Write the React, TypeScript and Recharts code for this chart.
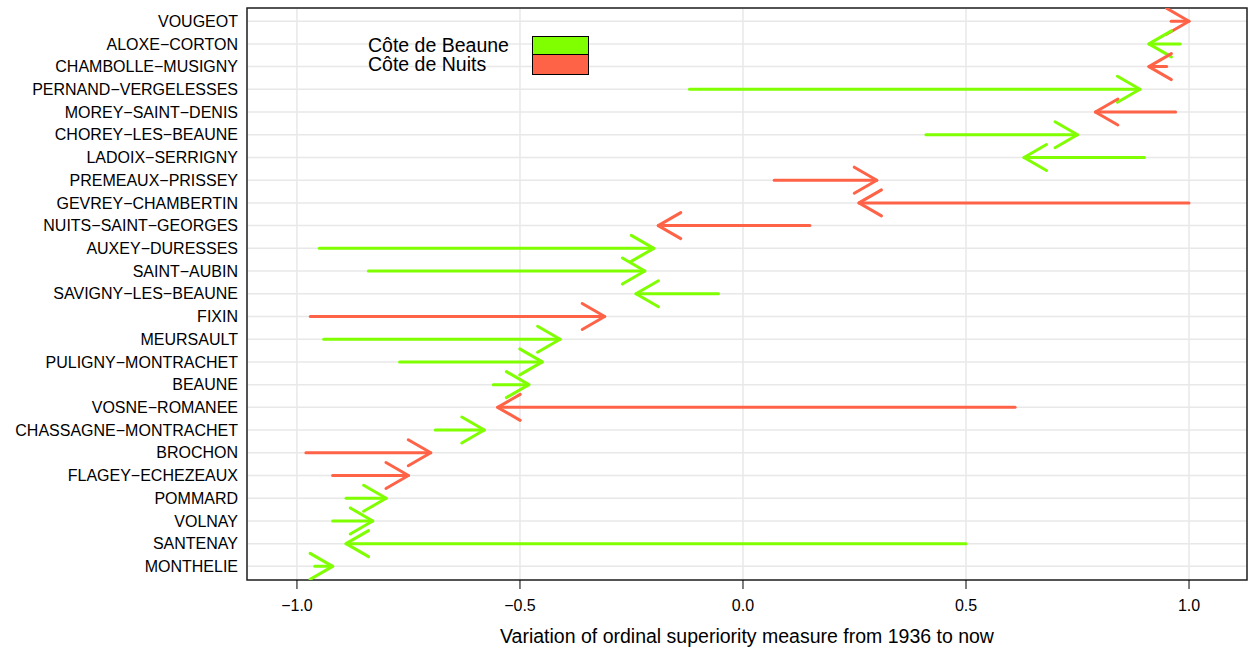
import { LineChart, Line, XAxis, YAxis, CartesianGrid, ReferenceArea } from 'recharts';

const villages = [
  'VOUGEOT', 'ALOXE−CORTON', 'CHAMBOLLE−MUSIGNY', 'PERNAND−VERGELESSES', 'MOREY−SAINT−DENIS',
  'CHOREY−LES−BEAUNE', 'LADOIX−SERRIGNY', 'PREMEAUX−PRISSEY', 'GEVREY−CHAMBERTIN', 'NUITS−SAINT−GEORGES',
  'AUXEY−DURESSES', 'SAINT−AUBIN', 'SAVIGNY−LES−BEAUNE', 'FIXIN', 'MEURSAULT',
  'PULIGNY−MONTRACHET', 'BEAUNE', 'VOSNE−ROMANEE', 'CHASSAGNE−MONTRACHET', 'BROCHON',
  'FLAGEY−ECHEZEAUX', 'POMMARD', 'VOLNAY', 'SANTENAY', 'MONTHELIE',
];
// B = Côte de Beaune, N = Côte de Nuits
const regions = ['N', 'B', 'N', 'B', 'N', 'B', 'B', 'N', 'N', 'N', 'B', 'B', 'B', 'N', 'B', 'B', 'B', 'N', 'B', 'N', 'N', 'B', 'B', 'B', 'B'];
const from1936 = [0.96, 0.98, 0.95, -0.12, 0.97, 0.41, 0.9, 0.07, 1.0, 0.15, -0.95, -0.84, -0.055, -0.97, -0.94, -0.77, -0.56, 0.61, -0.69, -0.98, -0.92, -0.89, -0.92, 0.5, -0.96];
const toNow = [1.0, 0.91, 0.91, 0.89, 0.79, 0.75, 0.63, 0.3, 0.26, -0.19, -0.2, -0.22, -0.24, -0.31, -0.41, -0.45, -0.48, -0.55, -0.58, -0.7, -0.75, -0.8, -0.83, -0.89, -0.92];
const xTicks = [-1, -0.5, 0, 0.5, 1];

const BEAUNE = '#7FFF00';
const NUITS = '#FF6347';
const FONT = '"Liberation Sans", Arial, Helvetica, sans-serif';
const N = villages.length;
const yTicks = villages.map((_, i) => N - i);
const X_DOMAIN = [-1.112, 1.13];
const Y_DOMAIN = [0.4, 25.58];

const HEAD = 26;
const ANG = Math.PI / 6;

const arrowHead = (color: string, dir: number, key: string) => (props: any) => {
  const { cx, cy, index } = props;
  if (index !== 1 || cx == null || cy == null) return <g key={`${key}-${index}`} />;
  const dx = HEAD * Math.cos(ANG) * dir;
  const dy = HEAD * Math.sin(ANG);
  return (
    <path
      key={`${key}-${index}`}
      d={`M${cx - dx},${cy - dy}L${cx},${cy}L${cx - dx},${cy + dy}`}
      stroke={color}
      strokeWidth={3}
      fill="none"
      strokeLinecap="round"
      strokeLinejoin="round"
    />
  );
};

export default function App() {
  return (
    <div style={{ position: 'absolute', left: 0, top: 0, width: 1249, height: 656, background: '#fff', fontFamily: FONT }}>
      <LineChart width={1249} height={656} margin={{ top: 8, right: 2, bottom: 0, left: 0 }}>
        <CartesianGrid stroke="#e8e8e8" strokeWidth={1.5} />
        <XAxis
          type="number"
          dataKey="x"
          domain={X_DOMAIN}
          allowDataOverflow
          ticks={xTicks}
          interval={0}
          height={76}
          axisLine={false}
          tickLine={{ stroke: '#000' }}
          tickSize={9}
          tickMargin={11}
          tick={{ fill: '#000', fontSize: 16, fontFamily: FONT }}
          tickFormatter={(v: number) => v.toFixed(1).replace('-', '−')}
          label={{ value: 'Variation of ordinal superiority measure from 1936 to now', position: 'insideBottom', offset: 13, fill: '#000', fontSize: 19.5, fontFamily: FONT }}
        />
        <YAxis
          type="number"
          dataKey="y"
          domain={Y_DOMAIN}
          allowDataOverflow
          ticks={yTicks}
          interval={0}
          width={247}
          axisLine={false}
          tickLine={false}
          tickSize={0}
          tickMargin={9}
          tick={{ fill: '#000', fontSize: 16, fontFamily: FONT }}
          tickFormatter={(v: number) => villages[N - v] ?? ''}
        />
        {villages.map((name, i) => {
          const color = regions[i] === 'B' ? BEAUNE : NUITS;
          const dir = toNow[i] >= from1936[i] ? 1 : -1;
          const data = [
            { x: from1936[i], y: N - i },
            { x: toNow[i], y: N - i },
          ];
          return (
            <Line
              key={name}
              data={data}
              dataKey="y"
              type="linear"
              stroke={color}
              strokeWidth={3}
              strokeLinecap="round"
              dot={arrowHead(color, dir, name)}
              activeDot={false}
              isAnimationActive={false}
            />
          );
        })}
        <ReferenceArea
          x1={X_DOMAIN[0]}
          x2={X_DOMAIN[1]}
          y1={Y_DOMAIN[0]}
          y2={Y_DOMAIN[1]}
          ifOverflow="visible"
          fill="none"
          stroke="#222"
          strokeWidth={1.5}
        />
      </LineChart>
      <div style={{ position: 'absolute', left: 368, top: 36, fontSize: 19.5, lineHeight: '19px', color: '#000' }}>
        {[
          { label: 'Côte de Beaune', color: BEAUNE },
          { label: 'Côte de Nuits', color: NUITS },
        ].map((it, k) => (
          <div key={it.label} style={{ position: 'absolute', left: 0, top: k * 19, height: 19, width: 221, whiteSpace: 'nowrap' }}>
            <span>{it.label}</span>
            <span
              style={{
                position: 'absolute',
                left: 164,
                top: k === 0 ? 0 : -1,
                width: 55,
                height: k === 0 ? 18 : 19,
                background: it.color,
                border: '1px solid #000',
              }}
            />
          </div>
        ))}
      </div>
    </div>
  );
}
